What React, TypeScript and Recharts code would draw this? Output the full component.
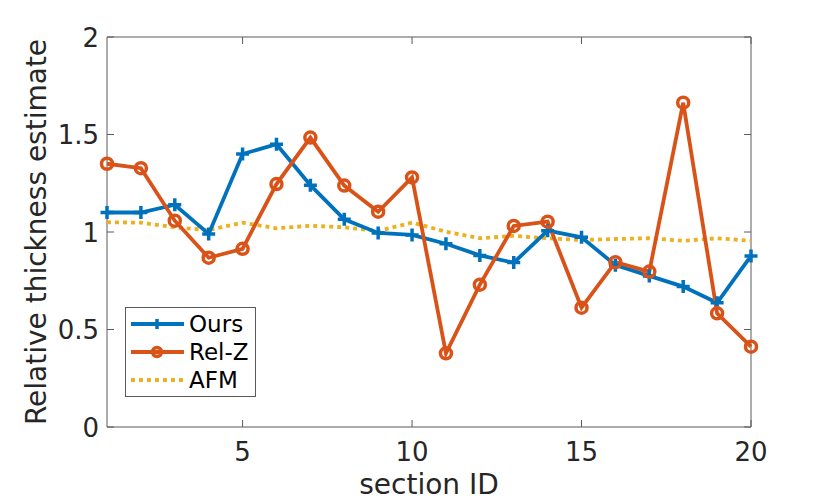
import React from "react";
import {
  LineChart,
  Line,
  XAxis,
  YAxis,
  Legend,
  ReferenceArea,
} from "recharts";

const sectionIds = [1, 2, 3, 4, 5, 6, 7, 8, 9, 10, 11, 12, 13, 14, 15, 16, 17, 18, 19, 20];
const ours = [1.10, 1.10, 1.14, 0.99, 1.40, 1.45, 1.24, 1.065, 0.995, 0.985, 0.94, 0.88, 0.843, 1.007, 0.973, 0.83, 0.775, 0.72, 0.637, 0.877];
const relZ = [1.35, 1.327, 1.058, 0.868, 0.914, 1.246, 1.484, 1.238, 1.104, 1.28, 0.378, 0.73, 1.031, 1.053, 0.612, 0.845, 0.797, 1.663, 0.583, 0.412];
const afm = [1.05, 1.048, 1.024, 1.01, 1.048, 1.019, 1.032, 1.024, 1.005, 1.048, 1.002, 0.968, 0.98, 0.968, 0.959, 0.964, 0.968, 0.955, 0.968, 0.955];
const xTicks = [5, 10, 15, 20];
const yTicks = [0, 0.5, 1, 1.5, 2];

const data = sectionIds.map((id, i) => ({ id, ours: ours[i], relZ: relZ[i], afm: afm[i] }));

const WIDTH = 830;
const HEIGHT = 502;
const PLOT = { left: 107, right: 751, top: 37, bottom: 427 };
const BLUE = "#0072BD";
const ORANGE = "#D95319";
const YELLOW = "#EDB120";
const TEXT = "#262626";
const AXIS = "#5a5a5a";
const FONT = "'DejaVu Sans', sans-serif";
const LINE_W = 3.8;

// recharts hands r / stroke props to custom dots, so use own names for the size
const PlusDot = (props: any) => {
  const { cx, cy, arm = 6.5 } = props;
  if (cx == null || cy == null) return null;
  return (
    <path
      d={`M${cx - arm},${cy}H${cx + arm}M${cx},${cy - arm}V${cy + arm}`}
      stroke={BLUE}
      strokeWidth={3.5}
      fill="none"
    />
  );
};

const CircleDot = (props: any) => {
  const { cx, cy, rad = 5.5 } = props;
  if (cx == null || cy == null) return null;
  return <circle cx={cx} cy={cy} r={rad} stroke={ORANGE} strokeWidth={3.5} fill="none" />;
};

const XTick = (props: any) => {
  const { x, y, payload } = props;
  return (
    <g>
      <line x1={x} x2={x} y1={y} y2={y - 7} stroke={AXIS} />
      <line x1={x} x2={x} y1={PLOT.top} y2={PLOT.top + 7} stroke={AXIS} />
      <text x={x} y={y + 34} textAnchor="middle" fill={TEXT} fontSize={26} fontFamily={FONT}>
        {payload.value}
      </text>
    </g>
  );
};

const YTick = (props: any) => {
  const { x, y, payload } = props;
  return (
    <g>
      <line x1={x} x2={x + 7} y1={y} y2={y} stroke={AXIS} />
      <line x1={PLOT.right} x2={PLOT.right - 7} y1={y} y2={y} stroke={AXIS} />
      <text x={x - 8} y={y + 9.5} textAnchor="end" fill={TEXT} fontSize={26} fontFamily={FONT}>
        {payload.value}
      </text>
    </g>
  );
};

const LegendBox = () => {
  const rows = [
    { label: "Ours", color: BLUE, kind: "plus" },
    { label: "Rel-Z", color: ORANGE, kind: "circle" },
    { label: "AFM", color: YELLOW, kind: "dot" },
  ];
  return (
    <svg width={131} height={90} style={{ display: "block" }}>
      <rect x={0.5} y={0.5} width={130} height={89} fill="#fff" stroke={AXIS} />
      {rows.map((r, i) => {
        const cy = 17 + i * 28;
        return (
          <g key={r.label}>
            <line
              x1={6}
              x2={59}
              y1={cy}
              y2={cy}
              stroke={r.color}
              strokeWidth={LINE_W}
              strokeDasharray={r.kind === "dot" ? "4 4" : undefined}
            />
            {r.kind === "plus" && <PlusDot cx={32} cy={cy} arm={5} />}
            {r.kind === "circle" && <CircleDot cx={32} cy={cy} rad={4.5} />}
            <text x={64} y={cy + 8} fill="#000" fontSize={23} fontFamily={FONT}>
              {r.label}
            </text>
          </g>
        );
      })}
    </svg>
  );
};

export default function App() {
  return (
    <div style={{ position: "absolute", left: 0, top: 0, background: "#fff" }}>
      <LineChart
        width={WIDTH}
        height={HEIGHT}
        data={data}
        margin={{ top: PLOT.top, right: WIDTH - PLOT.right, bottom: 15, left: 47 }}
      >
        <XAxis
          dataKey="id"
          type="number"
          domain={[1, 20]}
          ticks={xTicks}
          interval={0}
          height={60}
          axisLine={false}
          tickLine={false}
          tickSize={0}
          tickMargin={0}
          tick={<XTick />}
          label={() => (
            <text
              x={(PLOT.left + PLOT.right) / 2}
              y={494}
              textAnchor="middle"
              fill={TEXT}
              fontSize={28}
              fontFamily={FONT}
            >
              section ID
            </text>
          )}
        />
        <YAxis
          type="number"
          domain={[0, 2]}
          ticks={yTicks}
          interval={0}
          width={60}
          axisLine={false}
          tickLine={false}
          tickSize={0}
          tickMargin={0}
          tick={<YTick />}
          label={() => {
            const cx = 36;
            const cy = (PLOT.top + PLOT.bottom) / 2;
            return (
              <text
                x={cx}
                y={cy}
                transform={`rotate(-90 ${cx} ${cy})`}
                textAnchor="middle"
                dominantBaseline="central"
                fill={TEXT}
                fontSize={28}
                fontFamily={FONT}
              >
                Relative thickness estimate
              </text>
            );
          }}
        />
        <ReferenceArea x1={1} x2={20} y1={0} y2={2} fill="none" stroke={AXIS} strokeWidth={1} fillOpacity={0} />
        <Line
          dataKey="afm"
          name="AFM"
          stroke={YELLOW}
          strokeWidth={LINE_W}
          strokeDasharray="4 4"
          dot={false}
          activeDot={false}
          isAnimationActive={false}
        />
        <Line
          dataKey="ours"
          name="Ours"
          stroke={BLUE}
          strokeWidth={LINE_W}
          dot={<PlusDot />}
          activeDot={false}
          isAnimationActive={false}
        />
        <Line
          dataKey="relZ"
          name="Rel-Z"
          stroke={ORANGE}
          strokeWidth={LINE_W}
          dot={<CircleDot />}
          activeDot={false}
          isAnimationActive={false}
        />
        <Legend
          layout="vertical"
          align="center"
          verticalAlign="middle"
          content={() => <LegendBox />}
          wrapperStyle={{ left: 125, top: 307, width: 131, height: 90 }}
        />
      </LineChart>
    </div>
  );
}
